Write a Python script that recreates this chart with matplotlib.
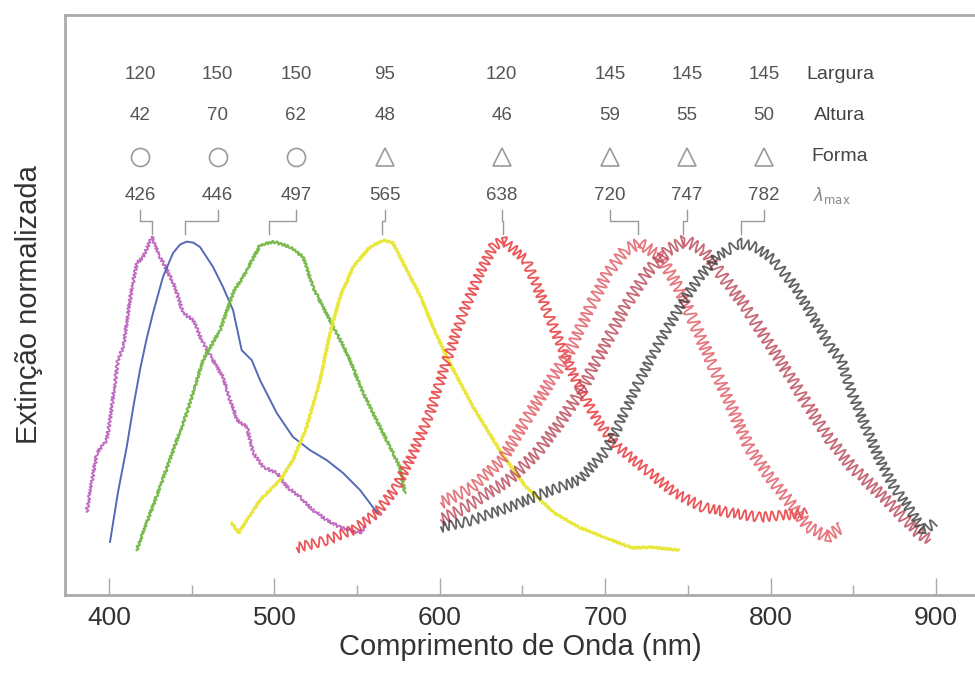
"""
Espectros de extinção normalizada (nanopartículas) - reconstrução.
"""

import numpy as np
import matplotlib.pyplot as plt

plt.rcParams['font.family'] = ['Liberation Sans', 'DejaVu Sans']

# ── Dados ────────────────────────────────────────────────────────────────────
largura = [120, 150, 150, 95, 120, 145, 145, 145]
altura = [42, 70, 62, 48, 46, 59, 55, 50]
forma = ['o', 'o', 'o', '^', '^', '^', '^', '^']
lambda_max = [426, 446, 497, 565, 638, 720, 747, 782]

# posição (nm) de cada coluna de rótulos
col_x = [418.7, 465.6, 513.0, 566.9, 637.4, 702.9, 749.5, 796.0]

# curvas: comprimento de onda (nm) e extinção normalizada
wl_426 = [386.5, 392.6, 398.6, 400.6, 405.4, 408.5, 413.9, 416.9, 420.6, 426.0,
          430.8, 435.1, 439.9, 444.7, 450.8, 456.8, 462.9, 468.9, 473.2, 477.4,
          483.4, 487.1, 493.1, 501.6, 507.6, 515.5, 523.3, 531.8, 539.7, 545.7,
          551.8, 554.8]
ext_426 = [0.233, 0.398, 0.434, 0.490, 0.658, 0.695, 0.863, 0.930, 0.947, 1.003,
           0.947, 0.910, 0.863, 0.790, 0.770, 0.706, 0.658, 0.611, 0.546, 0.490,
           0.471, 0.398, 0.359, 0.342, 0.303, 0.275, 0.238, 0.210, 0.190, 0.182,
           0.174, 0.190]

wl_446 = [400.6, 405.5, 410.7, 414.8, 418.7, 422.6, 426.6, 432.6, 438.7, 443.0,
          447.0, 451.0, 455.0, 462.9, 468.9, 475.0, 480.2, 486.3, 491.3, 501.4,
          511.2, 521.5, 531.6, 541.5, 551.8, 559.6, 562.6]
ext_446 = [0.149, 0.290, 0.415, 0.530, 0.630, 0.715, 0.790, 0.891, 0.958, 0.982,
           0.990, 0.987, 0.975, 0.919, 0.863, 0.798, 0.686, 0.658, 0.602, 0.510,
           0.443, 0.406, 0.378, 0.342, 0.294, 0.246, 0.230]

wl_497 = [416.7, 430.8, 447.0, 456.8, 467.1, 475.0, 483.3, 491.3, 499.2, 509.4,
          517.3, 523.3, 529.4, 537.7, 545.7, 553.6, 561.8, 569.9, 575.9, 579.0]
ext_497 = [0.126, 0.303, 0.510, 0.658, 0.742, 0.846, 0.910, 0.980, 0.990, 0.975,
           0.947, 0.863, 0.807, 0.734, 0.658, 0.566, 0.490, 0.415, 0.359, 0.286]

wl_565 = [474.2, 478.4, 491.3, 503.4, 511.2, 519.5, 527.6, 533.6, 539.7, 547.5,
          557.8, 565.7, 571.7, 580.0, 588.0, 596.0, 605.1, 620.1, 637.3, 652.1,
          669.3, 684.2, 699.3, 716.4, 727.1, 744.3]
ext_565 = [0.202, 0.174, 0.266, 0.322, 0.378, 0.471, 0.602, 0.734, 0.835, 0.919,
           0.975, 0.994, 0.986, 0.910, 0.840, 0.750, 0.658, 0.527, 0.398, 0.303,
           0.230, 0.190, 0.162, 0.132, 0.134, 0.126]

wl_638 = [513.5, 531.6, 547.5, 561.8, 573.9, 583.8, 594.1, 604.2, 614.0, 624.3,
          632.2, 638.2, 652.1, 663.0, 673.6, 682.2, 695.0, 707.7, 725.0, 742.2,
          759.1, 776.4, 793.6, 810.5, 822.0]
ext_638 = [0.132, 0.154, 0.182, 0.230, 0.303, 0.398, 0.510, 0.658, 0.790, 0.902,
           0.975, 0.995, 0.938, 0.818, 0.695, 0.602, 0.490, 0.415, 0.350, 0.286,
           0.246, 0.230, 0.218, 0.225, 0.230]

wl_720 = [600.7, 620.1, 637.3, 652.1, 667.2, 679.9, 690.8, 701.4, 712.0, 720.7,
          733.5, 744.3, 754.9, 765.6, 776.3, 786.9, 797.8, 810.5, 823.2, 834.1,
          842.6]
ext_720 = [0.258, 0.303, 0.378, 0.490, 0.602, 0.695, 0.807, 0.902, 0.966, 0.986,
           0.947, 0.863, 0.751, 0.639, 0.527, 0.415, 0.342, 0.266, 0.190, 0.162,
           0.190]

wl_747 = [600.7, 620.1, 641.5, 658.8, 673.6, 686.6, 699.3, 712.0, 725.0, 738.0,
          748.5, 759.4, 771.4, 785.0, 797.8, 810.5, 823.2, 836.3, 849.2, 862.0,
          874.6, 887.7, 896.2]
ext_747 = [0.210, 0.258, 0.322, 0.398, 0.490, 0.583, 0.695, 0.807, 0.902, 0.966,
           0.994, 0.966, 0.891, 0.807, 0.714, 0.622, 0.527, 0.434, 0.359, 0.303,
           0.246, 0.182, 0.154]

wl_782 = [600.7, 620.1, 641.5, 663.0, 684.2, 699.3, 707.7, 720.7, 733.5, 746.5,
          757.1, 767.6, 780.7, 791.2, 802.1, 814.8, 825.6, 836.3, 842.6, 849.2,
          857.6, 866.1, 874.6, 883.4, 892.0, 899.4]
ext_782 = [0.190, 0.210, 0.246, 0.286, 0.322, 0.398, 0.471, 0.602, 0.714, 0.818,
           0.891, 0.947, 0.986, 0.975, 0.938, 0.863, 0.779, 0.695, 0.658, 0.566,
           0.471, 0.378, 0.303, 0.246, 0.182, 0.202]

# ── Figura ───────────────────────────────────────────────────────────────────
fig = plt.figure(figsize=(9.75, 6.77), dpi=100)
ax = fig.add_axes([0.0667, 0.121, 0.9333, 0.857])

# (x, y, cor, espessura, alpha, ondulação do traço)
courbes = [
    (wl_426, ext_426, '#b552b8', 1.3, 0.85, (1.5, 4, 2)),
    (wl_446, ext_446, '#4a62b3', 1.4, 0.95, None),
    (wl_497, ext_497, '#72b844', 1.6, 0.95, (1.2, 4, 2)),
    (wl_565, ext_565, '#e8e62e', 2.0, 0.95, (0.8, 4, 2)),
    (wl_638, ext_638, '#e8383c', 1.3, 0.85, (5, 7, 0.6)),
    (wl_720, ext_720, '#e2606a', 1.3, 0.85, (6, 7, 0.6)),
    (wl_747, ext_747, '#b84555', 1.3, 0.80, (6, 7, 0.6)),
    (wl_782, ext_782, '#3c3c3c', 1.3, 0.80, (5, 7, 0.6)),
]
for wl, ext, cor, lw, alpha, sketch in courbes:
    linha, = ax.plot(wl, ext, color=cor, lw=lw, alpha=alpha)
    if sketch is not None:
        linha.set_sketch_params(*sketch)

# rótulos de cada partícula
y_larg, y_alt, y_forma, y_lmax = 1.457, 1.342, 1.227, 1.120
txt = dict(ha='center', va='center', fontsize=13.5, color='#555555',
           family=['Liberation Sans Narrow', 'Liberation Sans'])
for x, l, a, f, lm in zip(col_x, largura, altura, forma, lambda_max):
    ax.text(x, y_larg, str(l), **txt)
    ax.text(x, y_alt, str(a), **txt)
    ax.plot(x, y_forma, marker=f, ms=13, mfc='none', mec='#9a9a9a', mew=1.2,
            clip_on=False)
    ax.text(x, y_lmax, str(lm), **txt)
    # linha de ligação até o pico
    ax.plot([x, x, lm, lm], [1.078, 1.048, 1.048, 1.012], color='#9a9a9a',
            lw=1.0)

x_rot = 842
rot = dict(ha='center', va='center', fontsize=14, color='#444444',
           family=['Liberation Sans Narrow', 'Liberation Sans'])
ax.text(x_rot, y_larg, 'Largura', **rot)
ax.text(x_rot, y_alt, 'Altura', **rot)
ax.text(x_rot, y_forma, 'Forma', **rot)
ax.text(x_rot - 5, y_lmax, r'$\lambda_{\mathrm{max}}$', ha='center',
        va='center', fontsize=12, color='#888888')

ax.set_xlim(373.4, 923.6)
ax.set_ylim(0, 1.625)
ax.set_xticks([400, 500, 600, 700, 800, 900])
ax.set_xticks([450, 550, 650, 750, 850], minor=True)
ax.set_yticks([])
ax.tick_params(axis='x', which='major', direction='in', length=12, width=1,
               color='#aaaaaa', labelsize=19, labelcolor='#333333', pad=8)
ax.tick_params(axis='x', which='minor', direction='in', length=7, width=1,
               color='#aaaaaa')
for lado in ['left', 'bottom', 'top']:
    ax.spines[lado].set_color('#aaaaaa')
    ax.spines[lado].set_linewidth(2)
ax.spines['right'].set_visible(False)

ax.set_xlabel('Comprimento de Onda (nm)', fontsize=21, color='#333333',
              labelpad=2)
ax.set_ylabel('Extinção normalizada', fontsize=21, color='#333333',
              labelpad=16)

plt.savefig('out.png', dpi=100)
